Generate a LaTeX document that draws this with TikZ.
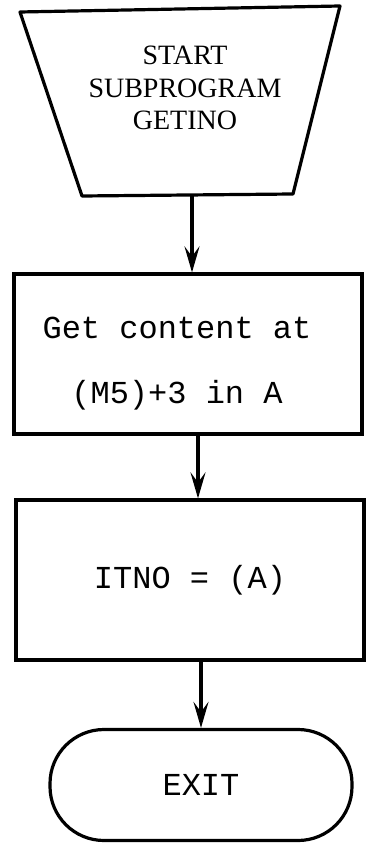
\documentclass[tikz,border=0pt]{standalone}
\usepackage{fontspec}
\setmainfont{Liberation Serif}
\setmonofont{Liberation Mono}
\usepackage{tikz}
\usetikzlibrary{arrows.meta}

\begin{document}
\begin{tikzpicture}[
  x=0.5pt, y=-0.5pt,
  every node/.style={inner sep=0pt},
  line/.style={line width=1.6pt, black},
  stepbox/.style={line, draw, rectangle, minimum width=174pt, minimum height=80pt,
    font=\fontsize{16}{32.5}\selectfont\ttfamily, align=center},
  steptext/.style={font=\fontsize{16}{32.5}\selectfont\ttfamily, align=center},
  endbox/.style={line, draw, rectangle, rounded corners=27pt, minimum width=151pt,
    minimum height=55.5pt, font=\fontsize{16}{20}\selectfont\ttfamily},
  title/.style={font=\fontsize{14}{16.25}\selectfont\rmfamily, align=center},
  flow/.style={line, -{Stealth[length=13pt, width=7.5pt, inset=5pt]}}
]
\useasboundingbox (0,0) rectangle (368,844);

% start block (trapezoid)
\coordinate (tl) at (20,12);
\coordinate (tr) at (340,6);
\coordinate (br) at (293,194);
\coordinate (bl) at (82,196);
\draw[line, line join=round] (tl) -- (tr) -- (br) -- (bl) -- cycle;
\node[title] (starttxt) at (185,88) {START\\SUBPROGRAM\\GETINO};
\coordinate (startout) at (192,195);

% process blocks
\node[stepbox] (getbox) at (188,354) {};
\node[steptext] (gettxt) at (177,364) {Get content at\\(M5)+3 in A};

\node[stepbox] (itbox) at (190,580) {ITNO = (A)};

% exit terminal
\node[endbox] (exit) at (201,785) {EXIT};

% connectors
\draw[flow] (startout) -- (startout |- getbox.north);
\draw[flow] (getbox.south -| 198,0) -- (198,0 |- itbox.north);
\draw[flow] (exit.north |- itbox.south) -- (exit.north);

\end{tikzpicture}
\end{document}
